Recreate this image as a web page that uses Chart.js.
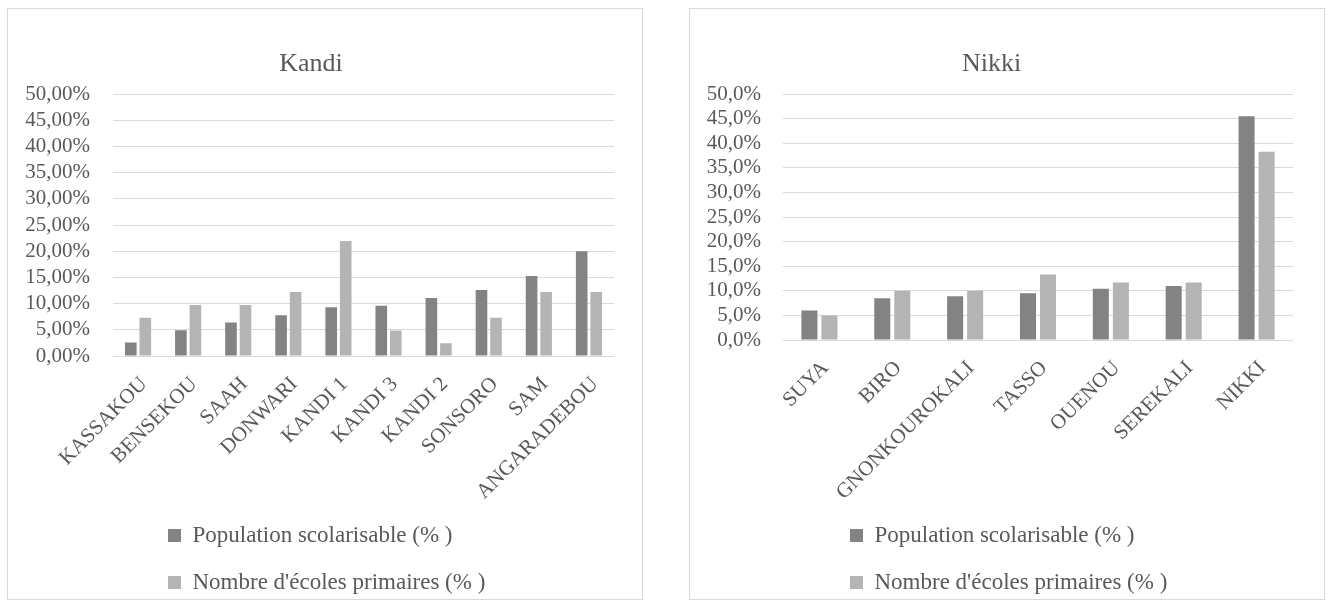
<!DOCTYPE html>
<html>
<head>
<meta charset="utf-8">
<script src="https://cdn.jsdelivr.net/npm/chart.js@4"></script>
<style>
  body { margin: 0; background: #fff; }
  .box { position: absolute; top: 8px; width: 634px; height: 590px; border: 1px solid #d9d9d9; }
  #boxKandi { left: 7px; }
  #boxNikki { left: 689px; }
</style>
</head>
<body>
<div class="box" id="boxKandi"><canvas id="chartKandi" width="634" height="590"></canvas></div>
<div class="box" id="boxNikki"><canvas id="chartNikki" width="634" height="590"></canvas></div>
<script>
// Données Kandi
const kandiLabels = ['KASSAKOU', 'BENSEKOU', 'SAAH', 'DONWARI', 'KANDI 1', 'KANDI 3', 'KANDI 2', 'SONSORO', 'SAM', 'ANGARADEBOU'];
const kandiPopulation = [2.6, 4.9, 6.4, 7.8, 9.3, 9.6, 11.1, 12.6, 15.3, 20.0];
const kandiEcoles = [7.32, 9.76, 9.76, 12.20, 21.95, 4.88, 2.44, 7.32, 12.20, 12.20];

// Données Nikki
const nikkiLabels = ['SUYA', 'BIRO', 'GNONKOUROKALI', 'TASSO', 'OUENOU', 'SEREKALI', 'NIKKI'];
const nikkiPopulation = [6.0, 8.5, 8.9, 9.5, 10.4, 11.0, 45.5];
const nikkiEcoles = [5.0, 10.0, 10.0, 13.3, 11.7, 11.7, 38.3];

const seriesNames = ['Population scolarisable (% )', "Nombre d'écoles primaires (% )"];
const seriesColors = ['#838383', '#b4b4b4'];

const FONT = "'Liberation Serif', 'DejaVu Serif', serif";
const TEXT = '#595959';

// place la légende comme dans Excel (deux lignes alignées à gauche)
const legendPlace = {
    id: 'legendPlace',
    beforeDraw(chart, args, opts) {
        chart.legend.left = opts.left;
        chart.legend.top = opts.top;
    }
};

function drawChart(id, title, labels, population, ecoles, decimals, s) {
    const ctx = document.getElementById(id).getContext('2d');
    return new Chart(ctx, {
        type: 'bar',
        data: {
            labels: labels,
            datasets: [{
                label: seriesNames[0],
                data: population,
                backgroundColor: seriesColors[0],
                borderWidth: 0
            }, {
                label: seriesNames[1],
                data: ecoles,
                backgroundColor: seriesColors[1],
                borderWidth: 0
            }]
        },
        options: {
            responsive: false,
            animation: false,
            categoryPercentage: s.catPct,
            barPercentage: 0.8,
            // marge basse négative : l'axe x garde la place des longues étiquettes
            layout: { padding: { top: 0, right: s.padRight, bottom: -60, left: 0 } },
            scales: {
                x: {
                    grid: { display: false },
                    border: { display: false },
                    ticks: {
                        autoSkip: false,
                        minRotation: 45,
                        maxRotation: 45,
                        padding: 8,
                        labelOffset: 6,
                        color: TEXT,
                        font: { family: FONT, size: 21 }
                    },
                    afterFit(scale) { scale.height = s.xHeight + 60; }
                },
                y: {
                    min: 0,
                    max: 50,
                    grid: { color: '#d9d9d9', lineWidth: 1, drawTicks: false },
                    border: { display: false },
                    ticks: {
                        stepSize: 5,
                        autoSkip: false,
                        padding: s.yPad,
                        color: TEXT,
                        font: { family: FONT, size: 21 },
                        callback: v => v.toFixed(decimals).replace('.', ',') + '%'
                    },
                    afterFit(scale) { scale.width = s.yWidth; }
                }
            },
            plugins: {
                title: {
                    display: true,
                    text: title,
                    color: TEXT,
                    font: { family: FONT, size: 26, weight: 'normal' },
                    padding: { top: 40, bottom: 14 }
                },
                legend: {
                    position: 'bottom',
                    align: 'start',
                    fullSize: false,
                    labels: {
                        boxWidth: 13,
                        boxHeight: 13,
                        padding: 24,
                        color: TEXT,
                        font: { family: FONT, size: 23 }
                    }
                },
                tooltip: { enabled: false },
                legendPlace: { left: s.legendLeft, top: 491 }
            }
        },
        plugins: [legendPlace]
    });
}

drawChart('chartKandi', 'Kandi', kandiLabels, kandiPopulation, kandiEcoles, 2,
    { catPct: 0.58, padRight: 28, xHeight: 139, yWidth: 105, yPad: 23, legendLeft: 136 });
drawChart('chartNikki', 'Nikki', nikkiLabels, nikkiPopulation, nikkiEcoles, 1,
    { catPct: 0.55, padRight: 31, xHeight: 155, yWidth: 93, yPad: 22, legendLeft: 136 });
</script>
</body>
</html>
